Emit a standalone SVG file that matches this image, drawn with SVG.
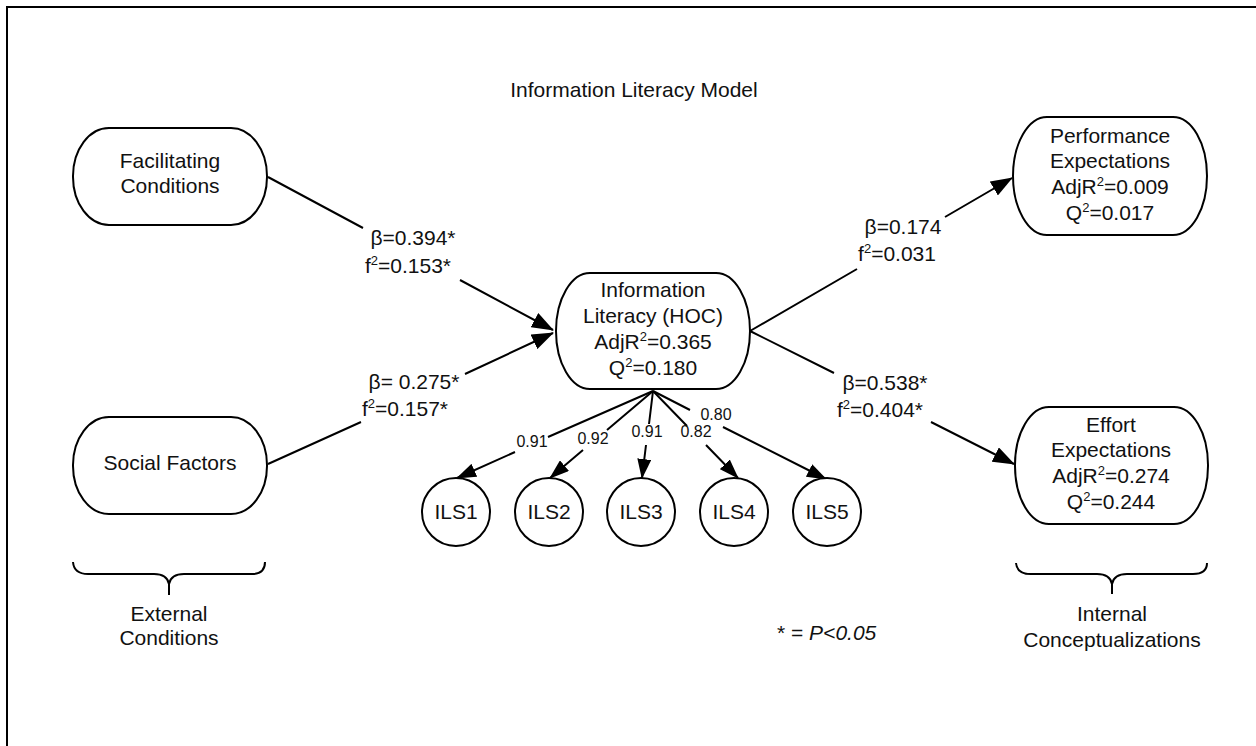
<svg xmlns="http://www.w3.org/2000/svg" width="1256" height="746" viewBox="0 0 1256 746">
<defs>
<style>
text{font-family:"Liberation Sans",Arial,sans-serif;font-size:21px;fill:#111;}
.c{text-anchor:middle;}
.sm{font-size:16px;}
.node{fill:#fff;stroke:#000;stroke-width:2;}
.edge{fill:none;stroke:#000;stroke-width:2;}
.brace{fill:none;stroke:#000;stroke-width:2;}
</style>
<marker id="arr" viewBox="0 0 22 16" markerWidth="22" markerHeight="16" refX="21" refY="8" orient="auto" markerUnits="userSpaceOnUse">
<path d="M0,0 L22,8 L0,16 z" fill="#000"/>
</marker>
<marker id="arrs" viewBox="0 0 20 14" markerWidth="20" markerHeight="14" refX="19" refY="7" orient="auto" markerUnits="userSpaceOnUse">
<path d="M0,0 L20,7 L0,14 z" fill="#000"/>
</marker>
</defs>
<rect width="1256" height="746" fill="#fff"/>
<path d="M7,746 V7 H1256" fill="none" stroke="#000" stroke-width="2"/>
<text class="c" x="634" y="97">Information Literacy Model</text>

<g id="connectors">
<path class="edge" d="M268,177 L363,228 M460,280 L553,330" marker-end="url(#arr)"/>
<path class="edge" d="M268,464 L361,422 M465,374 L553,333" marker-end="url(#arr)"/>
<path class="edge" d="M750,331 L857,269 M945,217 L1012,178" marker-end="url(#arr)"/>
<path class="edge" d="M750,331 L834,373 M931,422 L1014,464" marker-end="url(#arr)"/>
<path class="edge" d="M653,391 L548,437 M515,452 L457,478" marker-end="url(#arrs)"/>
<path class="edge" d="M653,391 L607,430 M583,450 L550,478" marker-end="url(#arrs)"/>
<path class="edge" d="M653,391 L649,424 M646,445 L642,478" marker-end="url(#arrs)"/>
<path class="edge" d="M653,391 L687,426 M706,445 L738,478" marker-end="url(#arrs)"/>
<path class="edge" d="M653,391 L690,410 M723,427 L826,479" marker-end="url(#arrs)"/>
<text class="c" x="413" y="245">β=0.394*</text>
<text class="c" x="408" y="273">f<tspan font-size="13" dy="-8">2</tspan><tspan dy="8">=0.153*</tspan></text>
<text class="c" x="414" y="389">β= 0.275*</text>
<text class="c" x="405" y="416">f<tspan font-size="13" dy="-8">2</tspan><tspan dy="8">=0.157*</tspan></text>
<text class="c" x="903" y="234">β=0.174</text>
<text class="c" x="897" y="261">f<tspan font-size="13" dy="-8">2</tspan><tspan dy="8">=0.031</tspan></text>
<text class="c" x="885" y="390">β=0.538*</text>
<text class="c" x="880" y="417">f<tspan font-size="13" dy="-8">2</tspan><tspan dy="8">=0.404*</tspan></text>
<text class="c sm" x="532" y="447">0.91</text>
<text class="c sm" x="593" y="444">0.92</text>
<text class="c sm" x="647" y="437">0.91</text>
<text class="c sm" x="696" y="437">0.82</text>
<text class="c sm" x="716" y="420">0.80</text>
</g>

<g id="facilitating">
<rect class="node" x="73" y="128" width="194" height="97" rx="36" ry="48"/>
<text class="c" x="170" y="168">Facilitating</text>
<text class="c" x="170" y="193">Conditions</text>
</g>
<g id="social">
<rect class="node" x="73" y="417" width="194" height="97" rx="36" ry="48"/>
<text class="c" x="170" y="470">Social Factors</text>
</g>
<g id="infolit">
<rect class="node" x="556" y="273" width="194" height="116" rx="34" ry="58"/>
<text class="c" x="653" y="297">Information</text>
<text class="c" x="653" y="323">Literacy (HOC)</text>
<text class="c" x="653" y="349">AdjR<tspan font-size="13" dy="-8">2</tspan><tspan dy="8">=0.365</tspan></text>
<text class="c" x="653" y="375">Q<tspan font-size="13" dy="-8">2</tspan><tspan dy="8">=0.180</tspan></text>
</g>
<g id="performance">
<rect class="node" x="1013" y="117" width="194" height="118" rx="34" ry="59"/>
<text class="c" x="1110" y="143">Performance</text>
<text class="c" x="1110" y="168">Expectations</text>
<text class="c" x="1110" y="194">AdjR<tspan font-size="13" dy="-8">2</tspan><tspan dy="8">=0.009</tspan></text>
<text class="c" x="1110" y="220">Q<tspan font-size="13" dy="-8">2</tspan><tspan dy="8">=0.017</tspan></text>
</g>
<g id="effort">
<rect class="node" x="1015" y="407" width="193" height="117" rx="34" ry="58"/>
<text class="c" x="1111" y="432">Effort</text>
<text class="c" x="1111" y="457">Expectations</text>
<text class="c" x="1111" y="483">AdjR<tspan font-size="13" dy="-8">2</tspan><tspan dy="8">=0.274</tspan></text>
<text class="c" x="1111" y="509">Q<tspan font-size="13" dy="-8">2</tspan><tspan dy="8">=0.244</tspan></text>
</g>
<g id="ils1"><circle class="node" cx="456" cy="512" r="34"/><text class="c" x="456" y="519">ILS1</text></g>
<g id="ils2"><circle class="node" cx="549" cy="512" r="34"/><text class="c" x="549" y="519">ILS2</text></g>
<g id="ils3"><circle class="node" cx="641" cy="512" r="34"/><text class="c" x="641" y="519">ILS3</text></g>
<g id="ils4"><circle class="node" cx="734" cy="512" r="34"/><text class="c" x="734" y="519">ILS4</text></g>
<g id="ils5"><circle class="node" cx="827" cy="512" r="34"/><text class="c" x="827" y="519">ILS5</text></g>

<g id="external">
<path class="brace" d="M73,562 Q74,574 88,574 L154,574 Q167,574 169,584 Q171,574 184,574 L252,574 Q265,574 265,562 M169,584 L169,595"/>
<text class="c" x="169" y="621">External</text>
<text class="c" x="169" y="645">Conditions</text>
</g>
<g id="internal">
<path class="brace" d="M1016,563 Q1017,574 1031,574 L1097,574 Q1110,574 1112,584 Q1114,574 1127,574 L1193,574 Q1207,574 1207,563 M1112,584 L1112,594"/>
<text class="c" x="1112" y="621">Internal</text>
<text class="c" x="1112" y="647">Conceptualizations</text>
</g>
<text x="777" y="640">* = <tspan font-style="italic">P&lt;0.05</tspan></text>
</svg>
